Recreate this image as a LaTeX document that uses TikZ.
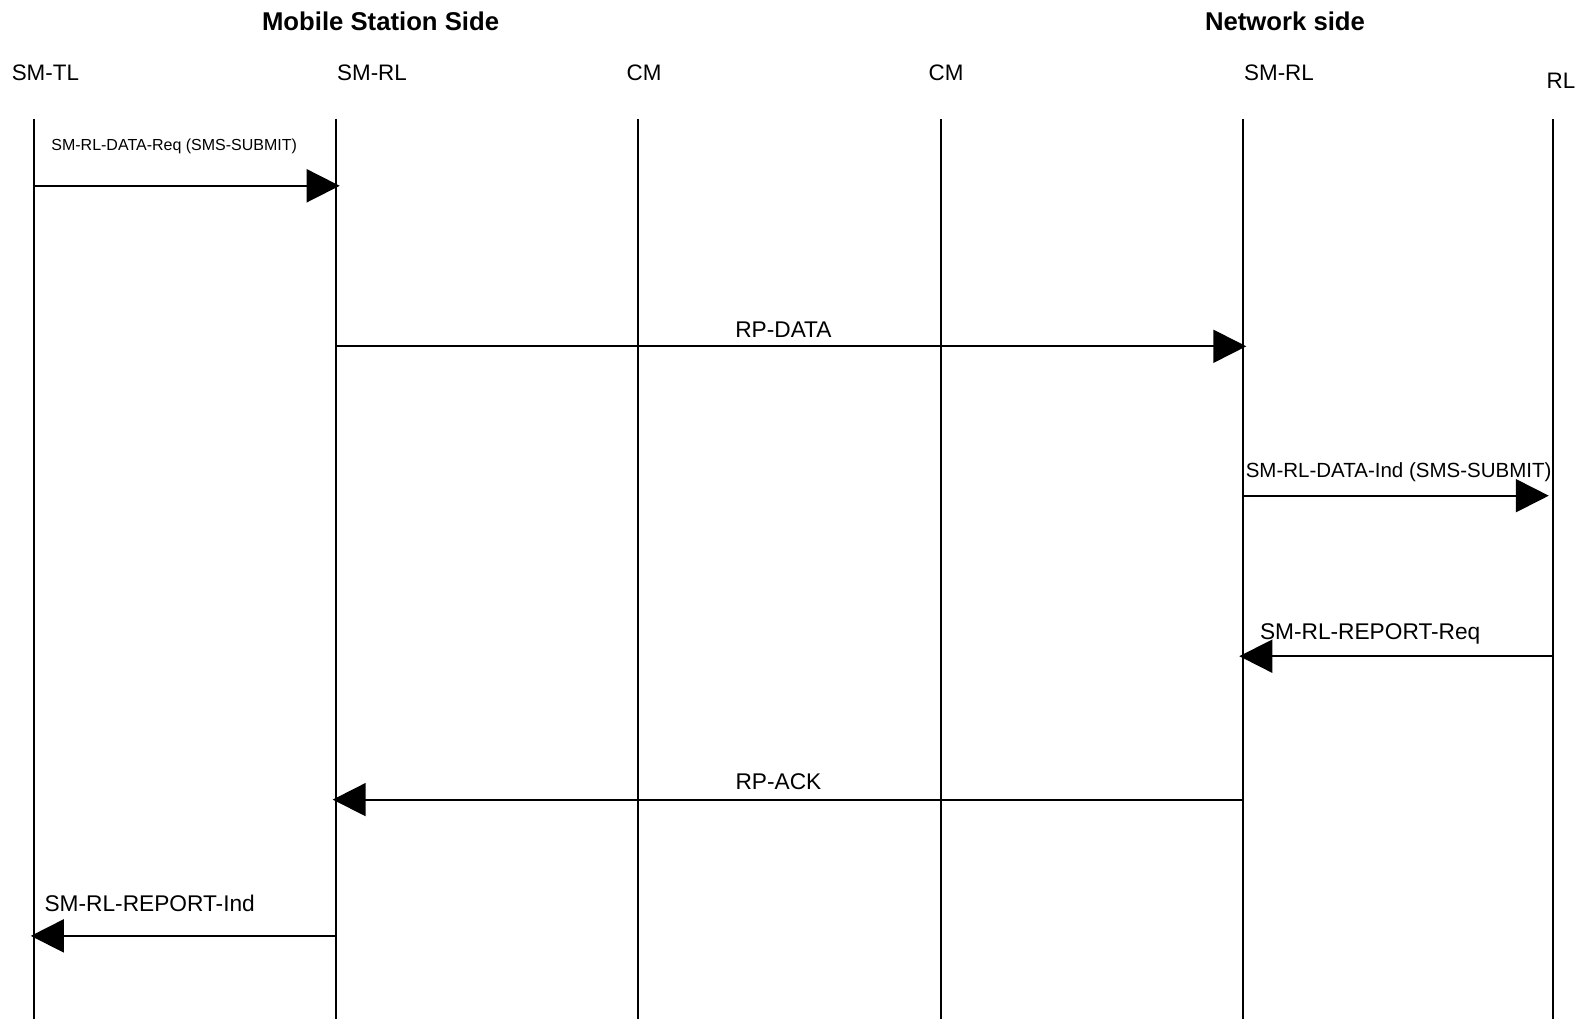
\documentclass[tikz,border=0pt]{standalone}
\usepackage{fontspec}
\setmainfont{Liberation Sans}
\usetikzlibrary{arrows.meta}
\begin{document}
\begin{tikzpicture}[x=1pt,y=-1pt,
  lifeline/.style={line width=1.9pt},
  msg/.style={line width=1.9pt,shorten >=-3.5pt,-{Triangle[length=33pt,width=33pt]}},
  lane/.style={font=\fontsize{22.4}{24}\selectfont,anchor=base,inner sep=0pt},
  title/.style={font=\fontsize{25.7}{28}\selectfont\bfseries,anchor=base,inner sep=0pt},
  lbl/.style={font=\fontsize{22.7}{24}\selectfont,inner sep=0pt},
  smalllbl/.style={font=\fontsize{16}{18}\selectfont,inner sep=0pt},
  midlbl/.style={font=\fontsize{20.5}{22}\selectfont,inner sep=0pt}]
\useasboundingbox[fill=white] (0,0) rectangle (1583,1019);

% titles
\node[title] (ms) at (380.6,30.5) {Mobile Station Side};
\node[title] (ns) at (1285,30.5) {Network side};

% lane labels
\node[lane] (l1) at (45.4,80.7) {SM-TL};
\node[lane] (l2) at (372,80.7) {SM-RL};
\node[lane] (l3) at (644,80.7) {CM};
\node[lane] (l4) at (946,80.7) {CM};
\node[lane] (l5) at (1279,80.7) {SM-RL};
\node[lane] (l6) at (1561,88.8) {RL};

% lifelines
\foreach \n/\x in {a/34.3,b/336.2,c/638.1,d/940.9,e/1242.8,f/1552.8}{
  \coordinate (\n top) at (\x,119);
  \coordinate (\n bot) at (\x,1019);
  \coordinate (\n1) at (\x,185.8);
  \coordinate (\n2) at (\x,346.3);
  \coordinate (\n3) at (\x,495.7);
  \coordinate (\n4) at (\x,656.2);
  \coordinate (\n5) at (\x,799.6);
  \coordinate (\n6) at (\x,935.9);
  \draw[lifeline] (\n top) -- (\n bot);
}

% messages
\draw[msg] (a1) -- (b1);
\node[smalllbl,anchor=base] (m1) at (174.2,150.1) {SM-RL-DATA-Req (SMS-SUBMIT)};

\draw[msg] (b2) -- (e2);
\node[lbl,anchor=base] (m2) at (783.4,337) {RP-DATA};

\draw[msg,shorten >=4pt] (e3) -- (f3);
\node[midlbl,anchor=base west] (m3) at (1245.6,477.9) {SM-RL-DATA-Ind (SMS-SUBMIT)};

\draw[msg] (f4) -- (e4);
\node[lbl,anchor=base west] (m4) at (1259.8,639.2) {SM-RL-REPORT-Req};

\draw[msg] (e5) -- (b5);
\node[lbl,anchor=base] (m5) at (778.4,789.4) {RP-ACK};

\draw[msg] (b6) -- (a6);
\node[lbl,anchor=base west] (m6) at (44.4,911.7) {SM-RL-REPORT-Ind};
\end{tikzpicture}
\end{document}
